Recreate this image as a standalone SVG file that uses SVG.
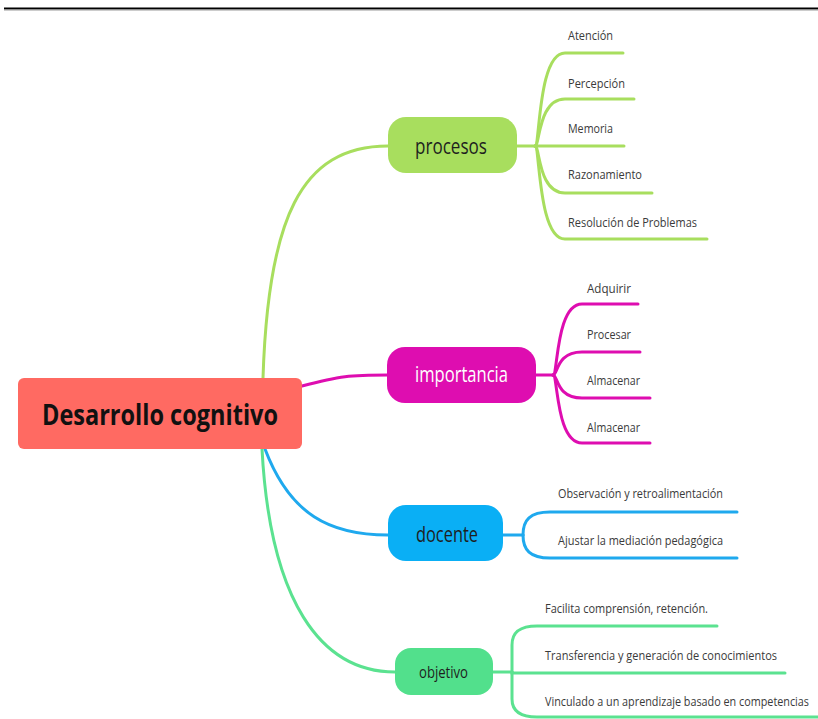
<svg xmlns="http://www.w3.org/2000/svg" width="818" height="719" viewBox="0 0 818 719">
<style>
.lbl{font-family:"Open Sans","Noto Sans",sans-serif;font-size:13px;fill:#3a3a3a}
.nt{font-family:"Open Sans","Noto Sans",sans-serif;fill:#1e1e1e;text-anchor:start}
.c{fill:none;stroke-width:3;stroke-linecap:round}
.g{stroke:#A8DE5E}.m{stroke:#DE0DB0}.b{stroke:#1FA9EE}.o{stroke:#5BE290}
</style>
<rect width="818" height="719" fill="#fff"/>
<line x1="4" y1="8.5" x2="818" y2="8.5" stroke="#000" stroke-width="2"/>
<line x1="4" y1="10" x2="818" y2="10" stroke="#999" stroke-width="1"/>
<g id="connectors">
<path class="c g" d="M263,378 C268,220 300,146 388,146"/>
<path class="c m" d="M302,386 C340,376 350,375 388,375"/>
<path class="c b" d="M265,449 C290,515 330,535 388,535"/>
<path class="c o" d="M262,449 C270,600 320,672 395,672"/>
<path class="c g" d="M517,146 H535"/>
<path class="c g" d="M535,146 C540,146 538,53 565,53 H623"/>
<path class="c g" d="M535,146 C540,146 538,99 565,99 H634"/>
<path class="c g" d="M535,146 H624"/>
<path class="c g" d="M535,146 C540,146 538,193 565,193 H652"/>
<path class="c g" d="M535,146 C540,146 538,239 565,239 H707"/>
<path class="c m" d="M536,375 H553"/>
<path class="c m" d="M553,375 C558,375 556,304 582,304 H638"/>
<path class="c m" d="M553,375 C558,375 556,352 582,352 H640"/>
<path class="c m" d="M553,375 C558,375 556,398 582,398 H650"/>
<path class="c m" d="M553,375 C558,375 556,443 582,443 H650"/>
<path class="c b" d="M503,535 H523"/>
<path class="c b" d="M523,535 C523,520 530,512 550,512 H737"/>
<path class="c b" d="M523,535 C523,550 530,558 550,558 H737"/>
<path class="c o" d="M493,672 H512"/>
<path class="c o" d="M512,672 V645 C512,632 520,626 537,626 H717"/>
<path class="c o" d="M512,672 V673 H785"/>
<path class="c o" d="M512,672 V699 C512,711 520,717 537,717 H818"/>
</g>
<g id="root">
<rect x="18" y="378" width="284" height="71" rx="6" fill="#FF6A62"/>
<text x="42" y="425" font-family="'Open Sans','Noto Sans',sans-serif" font-weight="bold" font-size="28" fill="#111" textLength="236" lengthAdjust="spacingAndGlyphs">Desarrollo cognitivo</text>
</g>
<g id="procesos">
<rect x="388" y="117" width="129" height="56" rx="18" fill="#A8DE5E"/>
<text class="nt" x="415" y="154" font-size="21" textLength="72" lengthAdjust="spacingAndGlyphs">procesos</text>
</g>
<g id="importancia">
<rect x="387" y="347" width="149" height="56" rx="18" fill="#DE0DB0"/>
<text class="nt" x="415" y="382" font-size="21" style="fill:#fff" textLength="93" lengthAdjust="spacingAndGlyphs">importancia</text>
</g>
<g id="docente">
<rect x="388" y="505" width="115" height="56" rx="18" fill="#0AAFF5"/>
<text class="nt" x="416" y="542" font-size="21" textLength="62" lengthAdjust="spacingAndGlyphs">docente</text>
</g>
<g id="objetivo">
<rect x="395" y="648" width="98" height="47" rx="16" fill="#52E08C"/>
<text class="nt" x="419" y="678" font-size="16" textLength="49" lengthAdjust="spacingAndGlyphs">objetivo</text>
</g>
<g id="atencion"><text class="lbl" x="568" y="40" textLength="45" lengthAdjust="spacingAndGlyphs">Atención</text></g>
<g id="percepcion"><text class="lbl" x="568" y="88" textLength="57" lengthAdjust="spacingAndGlyphs">Percepción</text></g>
<g id="memoria"><text class="lbl" x="568" y="133" textLength="45" lengthAdjust="spacingAndGlyphs">Memoria</text></g>
<g id="razonamiento"><text class="lbl" x="568" y="179" textLength="74" lengthAdjust="spacingAndGlyphs">Razonamiento</text></g>
<g id="resolucion"><text class="lbl" x="568" y="227" textLength="129" lengthAdjust="spacingAndGlyphs">Resolución de Problemas</text></g>
<g id="adquirir"><text class="lbl" x="587" y="293" textLength="44" lengthAdjust="spacingAndGlyphs">Adquirir</text></g>
<g id="procesar"><text class="lbl" x="587" y="339" textLength="44" lengthAdjust="spacingAndGlyphs">Procesar</text></g>
<g id="almacenar1"><text class="lbl" x="587" y="385" textLength="53" lengthAdjust="spacingAndGlyphs">Almacenar</text></g>
<g id="almacenar2"><text class="lbl" x="587" y="432" textLength="53" lengthAdjust="spacingAndGlyphs">Almacenar</text></g>
<g id="observacion"><text class="lbl" x="558" y="498" textLength="165" lengthAdjust="spacingAndGlyphs">Observación y retroalimentación</text></g>
<g id="ajustar"><text class="lbl" x="558" y="545" textLength="165" lengthAdjust="spacingAndGlyphs">Ajustar la mediación pedagógica</text></g>
<g id="facilita"><text class="lbl" x="545" y="613" textLength="163" lengthAdjust="spacingAndGlyphs">Facilita comprensión, retención.</text></g>
<g id="transferencia"><text class="lbl" x="545" y="660" textLength="232" lengthAdjust="spacingAndGlyphs">Transferencia y generación de conocimientos</text></g>
<g id="vinculado"><text class="lbl" x="545" y="706" textLength="264" lengthAdjust="spacingAndGlyphs">Vinculado a un aprendizaje basado en competencias</text></g>
</svg>
